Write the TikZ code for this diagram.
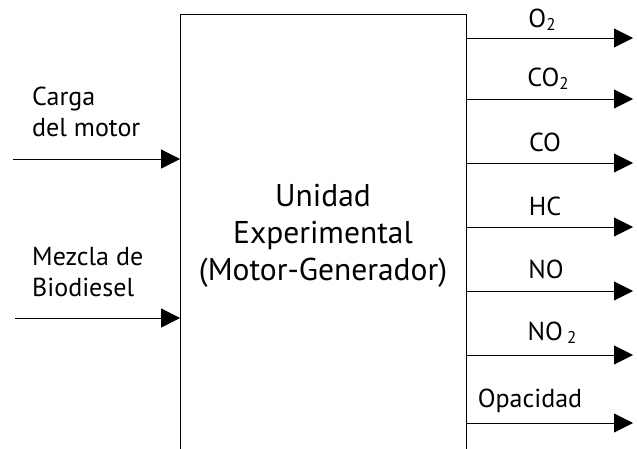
\documentclass[tikz,border=0pt]{standalone}
\usepackage{fontspec}
\setmainfont{PT Sans}
\usetikzlibrary{arrows.meta}
\tikzset{
  flow/.style={line width=0.8pt, -{Triangle[length=19pt,width=19pt]}},
  lbl/.style={font=\fontsize{26}{31}\selectfont, inner sep=0pt},
  big/.style={font=\fontsize{31.5}{37}\selectfont, inner sep=0pt, align=center},
  unit/.style={draw, line width=0.8pt, minimum width=285.5pt, minimum height=470pt, inner sep=0pt}
}
\newcommand{\sub}[1]{\raisebox{-0.25ex}{\fontsize{17}{17}\selectfont #1}}
\begin{document}
\begin{tikzpicture}[x=1pt,y=-1pt]
\useasboundingbox (0,0) rectangle (637,448);
\begin{scope}
\clip (0,0) rectangle (637,448);
% main unit (its lower edge lies below the page)
\node[unit] (box) at (323.25,249) {};
\end{scope}
\node[big] (title) at (323,236) {Unidad\\Experimental\\(Motor-Generador)};

% inputs
\coordinate (in1) at (13,159);
\coordinate (in2) at (15,318);
\node[lbl, align=left, anchor=west] (carga) at (32,112) {Carga\\del motor};
\node[lbl, align=left, anchor=west] (mezcla) at (32,272) {Mezcla de\\Biodiesel};
\draw[flow] (in1) -- (in1 -| box.west);
\draw[flow] (in2) -- (in2 -| box.west);

% outputs
\foreach \n/\y in {o1/38, o2/99, o3/163, o4/227, o5/291, o6/355, o7/423}{
  \coordinate (\n) at (633,\y);
  \draw[flow] (\n -| box.east) -- (\n);
}
\node[lbl] (lo1) at (542,20) {O\sub{2}};
\node[lbl] (lo2) at (548,79) {CO\sub{2}};
\node[lbl] (lo3) at (545,142) {CO};
\node[lbl] (lo4) at (545,206) {HC};
\node[lbl] (lo5) at (546,269) {NO};
\node[lbl] (lo6) at (552,333) {NO\,\sub{2}};
\node[lbl] (lo7) at (530,401) {Opacidad};
\end{tikzpicture}
\end{document}
